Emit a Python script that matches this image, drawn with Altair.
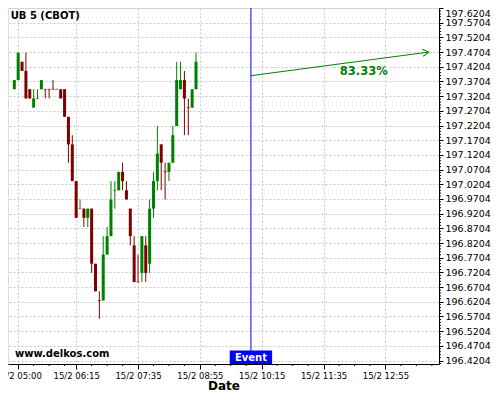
import altair as alt
import pandas as pd

# ---- data ----
times = ["04:55", "05:00", "05:05", "05:10", "05:15", "05:20", "05:25", "05:30",
         "05:35", "05:40", "05:45", "05:50", "05:55", "06:00", "06:05", "06:10",
         "06:15", "06:20", "06:25", "06:30", "06:35", "06:40", "06:45", "06:50",
         "06:55", "07:00", "07:05", "07:10", "07:15", "07:20", "07:25", "07:30",
         "07:35", "07:40", "07:45", "07:50", "07:55", "08:00", "08:05", "08:10",
         "08:15", "08:20", "08:25", "08:30", "08:35", "08:40", "08:45", "08:50"]
# prices in 32nds above 196
open_32 = [43, 44, 46, 45, 43, 41, 42, 43, 43, 43, 43, 43, 43, 43, 40, 37,
           33, 30, 30, 29, 30, 24, 20, 20, 25, 27, 32, 32, 34, 32, 30, 26,
           22, 23, 26, 24, 30, 33, 37, 34, 34, 35, 39, 43, 44, 41, 41, 43]
high_32 = [44, 47, 46, 47, 43, 43, 43, 44, 43, 43, 44, 43, 43, 43, 40, 38,
           33, 31, 30, 30, 30, 24, 21, 27, 28, 33, 33, 34, 35, 33, 30, 27,
           25, 27, 27, 31, 34, 39, 37, 35, 35, 39, 46, 46, 45, 42, 43, 47]
low_32 = [43, 44, 45, 42, 42, 41, 42, 43, 42, 42, 43, 43, 42, 40, 35, 33,
          29, 30, 28, 28, 23, 21, 18, 20, 25, 27, 30, 32, 32, 31, 26, 22,
          22, 22, 22, 23, 29, 32, 32, 31, 33, 35, 39, 43, 38, 38, 41, 43]
close_32 = [44, 47, 45, 42, 42, 42, 42, 44, 43, 43, 43, 43, 42, 40, 37, 33,
            29, 30, 29, 30, 24, 21, 20, 25, 27, 31, 32, 34, 33, 31, 27, 22,
            22, 27, 23, 30, 33, 36, 35, 34, 35, 38, 44, 44, 42, 41, 43, 46]
direction = ["up", "up", "down", "down", "down", "up", "up", "up",
             "down", "down", "down", "down", "down", "down", "down", "down",
             "down", "up", "down", "up", "down", "down", "down", "up",
             "up", "up", "up", "up", "down", "down", "down", "down",
             "down", "up", "down", "up", "up", "up", "down", "down",
             "up", "up", "up", "up", "down", "down", "up", "up"]

x_tick_times = ["05:00", "06:15", "07:35", "08:55", "10:15", "11:35", "12:55"]
y_tick_labels = ["196.4204", "196.4704", "196.5204", "196.5704", "196.6204",
                 "196.6704", "196.7204", "196.7704", "196.8204", "196.8704",
                 "196.9204", "196.9704", "197.0204", "197.0704", "197.1204",
                 "197.1704", "197.2204", "197.2704", "197.3204", "197.3704",
                 "197.4204", "197.4704", "197.5204", "197.5704", "197.6204"]

event_time = "10:01"
arrow_times = ["10:01", "13:51"]
arrow_prices = [197.39, 197.4704]
pct_label = "83.33%"
pct_time = "12:27"
pct_price = 197.4033


def to_min(s):
    h, m = s.split(":")
    return int(h) * 60 + int(m)


df = pd.DataFrame({
    "t": [to_min(s) for s in times],
    "open": [196 + v / 32 for v in open_32],
    "high": [196 + v / 32 for v in high_32],
    "low": [196 + v / 32 for v in low_32],
    "close": [196 + v / 32 for v in close_32],
    "dir": direction,
})
df["doji"] = df["open"] == df["close"]

x_ticks = [to_min(s) for s in x_tick_times]
y_ticks = [float(v) for v in y_tick_labels]
x_minor = [m + d for m in x_ticks for d in (20, 40, 60)]
y_minor = [round(y_ticks[0] - 0.01 + 0.01 * i, 4) for i in range(0, 122)
           if i % 5 != 1]
y_minor = [v for v in y_minor if 196.4087 <= v <= 197.6204]

SVG_W, SVG_H = 484, 384
W, H = 431, 356
X_DOM = [293.3, 837.8]
Y_DOM = [196.4087, 197.6204]
xs = alt.Scale(domain=X_DOM, nice=False, zero=False)
ys = alt.Scale(domain=Y_DOM, nice=False, zero=False)
FONT = "DejaVu Sans"
GREEN, RED, BLUE = "#008000", "#800000", "#0000ff"

lbl = ("'15/2 ' + (floor(datum.value/60) < 10 ? '0' : '') + floor(datum.value/60)"
       " + ':' + (datum.value % 60 < 10 ? '0' : '') + (datum.value % 60)")

x_axis = alt.Axis(values=x_ticks, labelExpr=lbl, grid=True, gridDash=[2, 2],
                  gridColor="#c8c8c8", domainColor="black", tickColor="black",
                  tickSize=5, labelFontSize=8.5, labelFont=FONT, labelColor="black",
                  labelPadding=2, labelFlush=False, labelOverlap=False,
                  title="Date", titleFont=FONT, titleFontSize=12,
                  titleFontWeight="bold", titleColor="black", titlePadding=1)
y_axis = alt.Axis(values=y_ticks, format=".4f", orient="right", grid=True,
                  gridDash=[2, 2], gridColor="#c8c8c8", domainColor="black",
                  tickColor="black", tickSize=4, labelFontSize=9.5, labelFont=FONT,
                  labelColor="black", labelPadding=2, labelFlush=True,
                  labelOverlap=False, title="")


def X(field):
    return alt.X(field, scale=xs, axis=x_axis, title="Date")


def Y(field):
    return alt.Y(field, scale=ys, axis=y_axis, title="")


col = alt.Color("dir:N", scale=alt.Scale(domain=["up", "down"], range=[GREEN, RED]),
                legend=None)

base = alt.Chart(df)
wicks = base.mark_rule(strokeWidth=1).encode(
    x=X("t:Q"), y=Y("low:Q"), y2="high:Q", color=col,
)
bodies = base.transform_filter("datum.doji == false").mark_bar(
    width=3, orient="vertical").encode(
    x=X("t:Q"), y=Y("open:Q"), y2="close:Q", color=col,
)
dojis = base.transform_filter("datum.doji == true").mark_tick(
    orient="horizontal", size=3, thickness=1).encode(
    x=X("t:Q"), y=Y("open:Q"), color=col,
)

ymin_df = pd.DataFrame({"v": y_minor})
ymin = alt.Chart(ymin_df).mark_rule(color="black", strokeWidth=1).encode(
    y=Y("v:Q"), x=alt.value(W), x2=alt.value(W + 2),
)
xmin_df = pd.DataFrame({"v": x_minor})
xmin = alt.Chart(xmin_df).mark_rule(color="black", strokeWidth=1).encode(
    x=X("v:Q"), y=alt.value(H), y2=alt.value(H + 2),
)

ev = to_min(event_time)
ev_df = pd.DataFrame({"t": [ev], "t0": [ev - 27.4], "t1": [ev + 27.4], "txt": ["Event"]})
ev_rule = alt.Chart(ev_df).mark_rule(color=BLUE, strokeWidth=1).encode(
    x=X("t:Q"), y=alt.value(0), y2=alt.value(H - 13),
)
ev_box = alt.Chart(ev_df).mark_rect(color=BLUE).encode(
    x=X("t0:Q"), x2="t1:Q", y=alt.value(H - 13.5), y2=alt.value(H),
)
ev_txt = alt.Chart(ev_df).mark_text(color="white", font=FONT, fontSize=10,
                                    fontWeight="bold", baseline="middle").encode(
    x=X("t:Q"), y=alt.value(H - 6.5), text="txt:N",
)

arr_df = pd.DataFrame({"t": [to_min(s) for s in arrow_times], "p": arrow_prices})
arr_line = alt.Chart(arr_df).mark_line(color=GREEN, strokeWidth=1).encode(
    x=X("t:Q"), y=Y("p:Q"),
)
head_df = arr_df.tail(1)
arr_head = alt.Chart(head_df).mark_point(
    shape="M-1,-0.6L0,0L-1,0.6", filled=False, stroke=GREEN, strokeWidth=1,
    size=144, angle=353, opacity=1).encode(
    x=X("t:Q"), y=Y("p:Q"),
)
pct_df = pd.DataFrame({"t": [to_min(pct_time)], "p": [pct_price], "txt": [pct_label]})
pct = alt.Chart(pct_df).mark_text(color=GREEN, font=FONT, fontSize=11.5,
                                  fontWeight="bold", baseline="middle").encode(
    x=X("t:Q"), y=Y("p:Q"), text="txt:N",
)

title_df = pd.DataFrame({"txt": ["UB 5 (CBOT)"]})
title = alt.Chart(title_df).mark_text(font=FONT, fontSize=10, fontWeight="bold",
                                      align="left", baseline="middle",
                                      color="black").encode(
    x=alt.value(2.7), y=alt.value(7.5), text="txt:N")
wm_df = pd.DataFrame({"txt": ["www.delkos.com"]})
wm = alt.Chart(wm_df).mark_text(font=FONT, fontSize=10, fontWeight="bold",
                                align="left", baseline="middle",
                                color="black").encode(
    x=alt.value(7), y=alt.value(H - 10.5), text="txt:N")

chart = alt.layer(
    wicks, bodies, dojis, ymin, xmin, ev_rule, ev_box, ev_txt,
    arr_line, arr_head, pct, title, wm
).properties(
    width=W, height=H,
    autosize=alt.AutoSizeParams(type="none"),
    padding={"left": 0, "top": 0, "right": SVG_W - W, "bottom": SVG_H - H},
    background="white",
).configure_view(strokeWidth=0, stroke="transparent").configure(font=FONT)

chart.save("out.html", embed_options={"renderer": "svg", "actions": False})
